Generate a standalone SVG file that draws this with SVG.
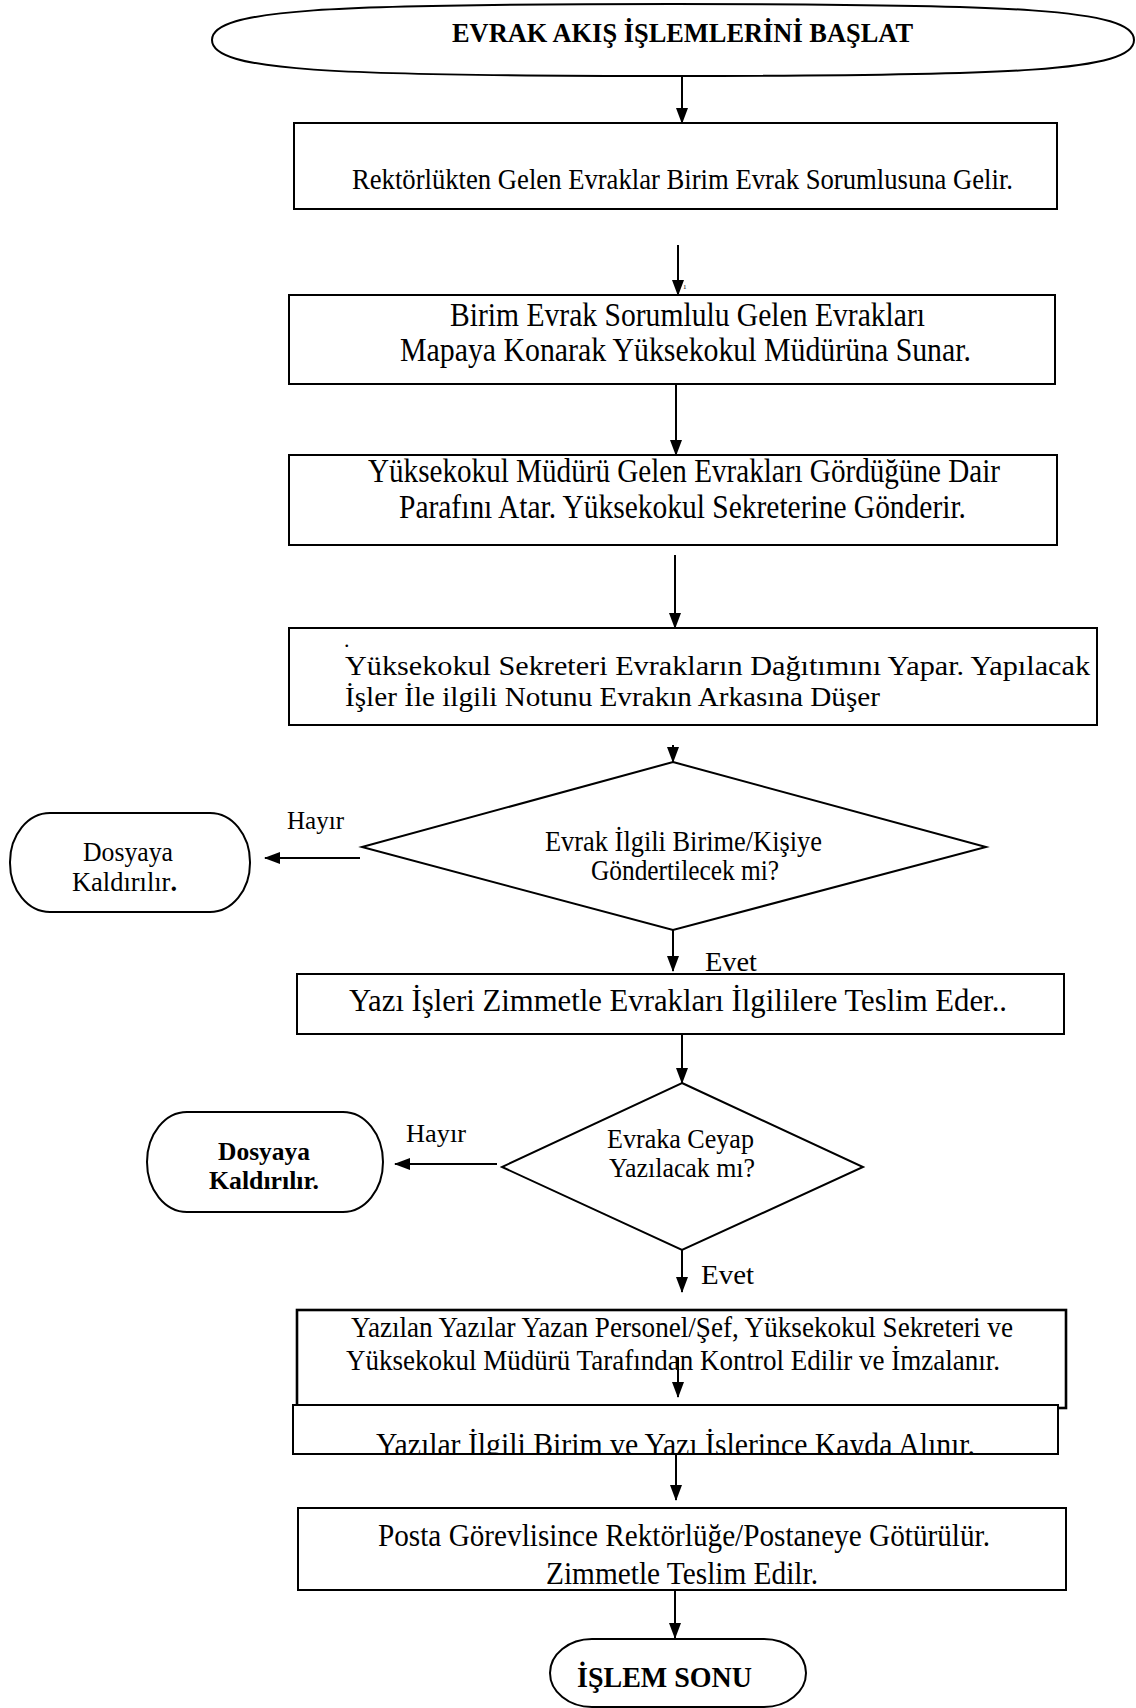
<svg xmlns="http://www.w3.org/2000/svg" width="1136" height="1708" viewBox="0 0 1136 1708">
<style>
  .shape { fill: #ffffff; stroke: #000000; stroke-width: 2; }
  .thick { stroke-width: 2.6; }
  .t { font-family: "Liberation Serif", "Times New Roman", serif; fill: #000000; }
  .b { font-weight: bold; }
  .conn line { stroke: #000000; stroke-width: 2; fill: none; }
</style>
<defs>
  <marker id="arr" markerUnits="userSpaceOnUse" markerWidth="16" markerHeight="12" refX="15" refY="6" orient="auto">
    <path d="M0,0 L16,6 L0,12 Z" fill="#000000"/>
  </marker>
  <clipPath id="clip7"><rect x="280" y="1400" width="800" height="53"/></clipPath>
</defs>
<rect width="1136" height="1708" fill="#ffffff"/>

<g id="start">
  <path class="shape" d="M212,40 C212,9 330,4 673,4 C1016,4 1134,9 1134,40 C1134,71 1016,76 673,76 C330,76 212,71 212,40 Z"/>
  <text class="t b" x="452" y="42" font-size="27" textLength="461" lengthAdjust="spacingAndGlyphs">EVRAK AKIŞ İŞLEMLERİNİ BAŞLAT</text>
</g>

<g id="box1">
  <rect class="shape" x="294" y="123" width="763" height="86"/>
  <text class="t" x="352" y="189" font-size="30" textLength="661" lengthAdjust="spacingAndGlyphs">Rektörlükten Gelen Evraklar Birim Evrak Sorumlusuna Gelir.</text>
</g>

<g id="box2">
  <rect class="shape" x="289" y="295" width="766" height="89"/>
  <text class="t" x="450" y="326" font-size="33" textLength="475" lengthAdjust="spacingAndGlyphs">Birim Evrak Sorumlulu Gelen Evrakları</text>
  <text class="t" x="400" y="361" font-size="33" textLength="571" lengthAdjust="spacingAndGlyphs">Mapaya Konarak Yüksekokul Müdürüna Sunar.</text>
</g>

<g id="box3">
  <rect class="shape" x="289" y="455" width="768" height="90"/>
  <text class="t" x="368" y="482" font-size="33" textLength="632" lengthAdjust="spacingAndGlyphs">Yüksekokul Müdürü Gelen Evrakları Gördüğüne Dair</text>
  <text class="t" x="399" y="518" font-size="33" textLength="567" lengthAdjust="spacingAndGlyphs">Parafını Atar. Yüksekokul Sekreterine Gönderir.</text>
</g>

<g id="box4">
  <rect class="shape" x="289" y="628" width="808" height="97"/>
  <text class="t" x="344" y="647" font-size="22">.</text>
  <text class="t" x="345" y="675" font-size="27" textLength="745" lengthAdjust="spacingAndGlyphs">Yüksekokul Sekreteri Evrakların Dağıtımını Yapar. Yapılacak</text>
  <text class="t" x="345" y="706" font-size="27" textLength="535" lengthAdjust="spacingAndGlyphs">İşler İle ilgili Notunu Evrakın Arkasına Düşer</text>
</g>

<g id="decision1">
  <polygon class="shape" points="673,762 986,847 673,930 362,847"/>
  <text class="t" x="545" y="851" font-size="29" textLength="277" lengthAdjust="spacingAndGlyphs">Evrak İlgili Birime/Kişiye</text>
  <text class="t" x="591" y="880" font-size="29" textLength="188" lengthAdjust="spacingAndGlyphs">Göndertilecek mi?</text>
</g>

<g id="end1">
  <rect class="shape" x="10" y="813" width="240" height="99" rx="40" ry="49"/>
  <text class="t" x="83" y="861" font-size="27" textLength="90" lengthAdjust="spacingAndGlyphs">Dosyaya</text>
  <text class="t" x="72" y="891" font-size="27" textLength="105" lengthAdjust="spacingAndGlyphs">Kaldırılır<tspan class="b">.</tspan></text>
</g>

<g id="box5">
  <rect class="shape" x="297" y="974" width="767" height="60"/>
  <text class="t" x="349" y="1011" font-size="32" textLength="658" lengthAdjust="spacingAndGlyphs">Yazı İşleri Zimmetle Evrakları İlgililere Teslim Eder..</text>
</g>

<g id="decision2">
  <polygon class="shape" points="682,1083 863,1167 682,1250 502,1167"/>
  <text class="t" x="607" y="1148" font-size="28" textLength="147" lengthAdjust="spacingAndGlyphs">Evraka Ceyap</text>
  <text class="t" x="609" y="1177" font-size="28" textLength="146" lengthAdjust="spacingAndGlyphs">Yazılacak mı?</text>
</g>

<g id="end2">
  <rect class="shape" x="147" y="1112" width="236" height="100" rx="40" ry="50"/>
  <text class="t b" x="218" y="1160" font-size="26" textLength="92" lengthAdjust="spacingAndGlyphs">Dosyaya</text>
  <text class="t b" x="209" y="1189" font-size="26" textLength="110" lengthAdjust="spacingAndGlyphs">Kaldırılır.</text>
</g>

<g id="box6">
  <rect class="shape thick" x="297" y="1310" width="769" height="98"/>
  <text class="t" x="351" y="1337" font-size="29" textLength="662" lengthAdjust="spacingAndGlyphs">Yazılan Yazılar Yazan Personel/Şef, Yüksekokul Sekreteri ve</text>
  <text class="t" x="346" y="1370" font-size="29" textLength="654" lengthAdjust="spacingAndGlyphs">Yüksekokul Müdürü Tarafından Kontrol Edilir ve İmzalanır.</text>
</g>

<g id="box7">
  <rect class="shape" x="293" y="1405" width="765" height="49"/>
  <text class="t" x="376" y="1455" font-size="32" textLength="599" lengthAdjust="spacingAndGlyphs" clip-path="url(#clip7)">Yazılar İlgili Birim ve Yazı İşlerince Kayda Alınır.</text>
</g>

<g id="box8">
  <rect class="shape" x="298" y="1508" width="768" height="82"/>
  <text class="t" x="378" y="1546" font-size="31" textLength="612" lengthAdjust="spacingAndGlyphs">Posta Görevlisince Rektörlüğe/Postaneye Götürülür.</text>
  <text class="t" x="546" y="1584" font-size="31" textLength="272" lengthAdjust="spacingAndGlyphs">Zimmetle Teslim Edilr.</text>
</g>

<g id="end">
  <rect class="shape" x="550" y="1639" width="256" height="68" rx="42" ry="34"/>
  <text class="t b" x="577" y="1687" font-size="29" textLength="175" lengthAdjust="spacingAndGlyphs">İŞLEM SONU</text>
</g>

<g id="connectors" class="conn">
  <line x1="682" y1="77" x2="682" y2="123" marker-end="url(#arr)"/>
  <line x1="678" y1="245" x2="678" y2="295" marker-end="url(#arr)"/>
  <line x1="676" y1="384" x2="676" y2="455" marker-end="url(#arr)"/>
  <line x1="675" y1="555" x2="675" y2="628" marker-end="url(#arr)"/>
  <line x1="673" y1="745" x2="673" y2="762" marker-end="url(#arr)"/>
  <line x1="360" y1="858" x2="265" y2="858" marker-end="url(#arr)"/>
  <line x1="673" y1="930" x2="673" y2="971" marker-end="url(#arr)"/>
  <line x1="682" y1="1034" x2="682" y2="1083" marker-end="url(#arr)"/>
  <line x1="497" y1="1164" x2="395" y2="1164" marker-end="url(#arr)"/>
  <line x1="682" y1="1250" x2="682" y2="1292" marker-end="url(#arr)"/>
  <line x1="678" y1="1357" x2="678" y2="1397" marker-end="url(#arr)"/>
  <line x1="676" y1="1454" x2="676" y2="1500" marker-end="url(#arr)"/>
  <line x1="675" y1="1590" x2="675" y2="1638" marker-end="url(#arr)"/>
</g>

<g id="labels">
  <text class="t" x="683" y="289" font-size="7">1</text>
  <text class="t" x="287" y="829" font-size="26" textLength="57" lengthAdjust="spacingAndGlyphs">Hayır</text>
  <text class="t" x="705" y="971" font-size="28" textLength="52" lengthAdjust="spacingAndGlyphs">Evet</text>
  <text class="t" x="406" y="1142" font-size="26" textLength="60" lengthAdjust="spacingAndGlyphs">Hayır</text>
  <text class="t" x="701" y="1284" font-size="28" textLength="53" lengthAdjust="spacingAndGlyphs">Evet</text>
</g>
</svg>
